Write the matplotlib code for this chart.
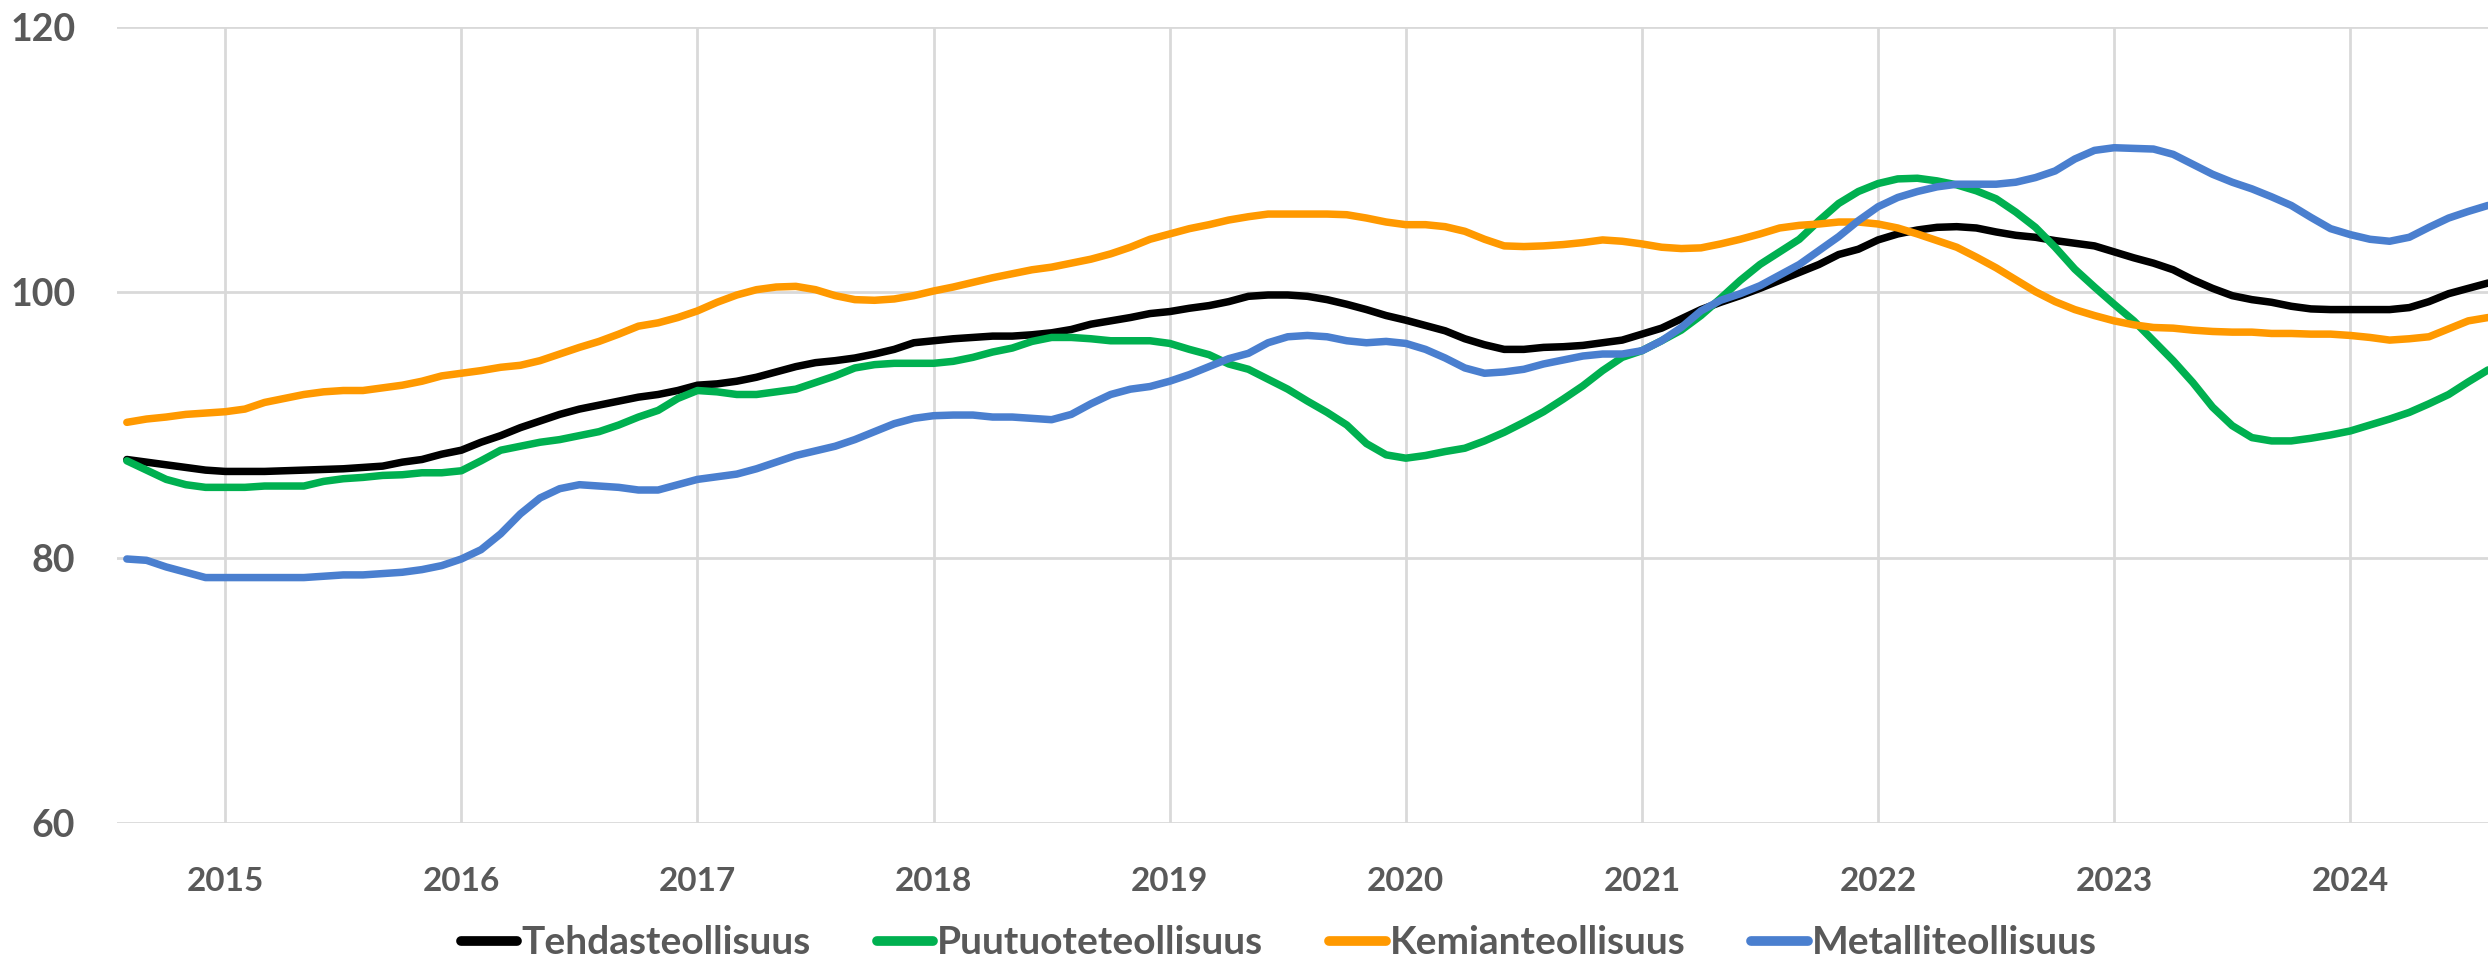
import numpy as np
import pandas as pd
import matplotlib
matplotlib.use("Agg")
import matplotlib.pyplot as plt

# Monthly index values, Aug 2014 - Aug 2024
months = pd.date_range("2014-08-01", "2024-08-01", freq="MS")

tehdas = [
    87.4, 87.2, 87.0, 86.8, 86.6,
    86.5, 86.5, 86.5, 86.55, 86.6, 86.65, 86.7, 86.8, 86.9, 87.2, 87.4, 87.8,
    88.1, 88.7, 89.2, 89.8, 90.3, 90.8, 91.2, 91.5, 91.8, 92.1, 92.3, 92.6,
    93.0, 93.1, 93.3, 93.6, 94.0, 94.4, 94.7, 94.85, 95.05, 95.35, 95.7, 96.2,
    96.35, 96.5, 96.6, 96.7, 96.7, 96.8, 96.95, 97.2, 97.6, 97.85, 98.1, 98.4,
    98.55, 98.8, 99.0, 99.3, 99.7, 99.8, 99.8, 99.7, 99.45, 99.1, 98.7, 98.25,
    97.9, 97.5, 97.1, 96.5, 96.05, 95.7, 95.7, 95.85, 95.9, 96.0, 96.2, 96.4,
    96.85, 97.3, 98.0, 98.7, 99.25, 99.75, 100.3, 100.9, 101.5, 102.1, 102.85, 103.25,
    103.95, 104.4, 104.7, 104.9, 104.95, 104.85, 104.55, 104.3, 104.15, 103.9, 103.7, 103.5,
    103.05, 102.6, 102.2, 101.7, 100.95, 100.3, 99.75, 99.45, 99.25, 98.95, 98.75, 98.7,
    98.7, 98.7, 98.7, 98.85, 99.3, 99.9, 100.3, 100.7,
]
puutuote = [
    87.3, 86.6, 85.9, 85.5, 85.3,
    85.3, 85.3, 85.4, 85.4, 85.4, 85.75, 85.95, 86.05, 86.2, 86.25, 86.4, 86.4,
    86.55, 87.3, 88.1, 88.4, 88.7, 88.9, 89.2, 89.5, 90.0, 90.6, 91.1, 92.0,
    92.6, 92.5, 92.3, 92.3, 92.5, 92.7, 93.2, 93.7, 94.3, 94.55, 94.65, 94.65,
    94.65, 94.8, 95.1, 95.5, 95.8, 96.3, 96.6, 96.6, 96.5, 96.35, 96.35, 96.35,
    96.15, 95.7, 95.3, 94.6, 94.2, 93.45, 92.7, 91.8, 90.95, 90.0, 88.6, 87.75,
    87.5, 87.7, 88.0, 88.25, 88.8, 89.45, 90.2, 91.0, 91.95, 92.95, 94.1, 95.1,
    95.6, 96.35, 97.15, 98.25, 99.55, 100.9, 102.1, 103.05, 104.0, 105.4, 106.7, 107.6,
    108.2, 108.55, 108.6, 108.4, 108.1, 107.65, 107.05, 106.05, 104.9, 103.4, 101.75, 100.4,
    99.1, 97.85, 96.35, 94.85, 93.2, 91.35, 89.95, 89.05, 88.8, 88.8, 89.0, 89.25,
    89.55, 90.0, 90.45, 90.95, 91.6, 92.3, 93.25, 94.15,
]
kemian = [
    90.2, 90.45, 90.6, 90.8, 90.9,
    91.0, 91.2, 91.7, 92.0, 92.3, 92.5, 92.6, 92.6, 92.8, 93.0, 93.3, 93.7,
    93.9, 94.1, 94.35, 94.5, 94.85, 95.35, 95.85, 96.3, 96.85, 97.45, 97.7, 98.1,
    98.6, 99.25, 99.8, 100.2, 100.4, 100.45, 100.2, 99.75, 99.45, 99.4, 99.5, 99.75,
    100.1, 100.4, 100.75, 101.1, 101.4, 101.7, 101.9, 102.2, 102.5, 102.9, 103.4, 104.0,
    104.4, 104.8, 105.1, 105.45, 105.7, 105.9, 105.9, 105.9, 105.9, 105.85, 105.6, 105.3,
    105.1, 105.1, 104.95, 104.6, 104.0, 103.5, 103.45, 103.5, 103.6, 103.75, 103.95, 103.85,
    103.65, 103.4, 103.3, 103.35, 103.65, 104.0, 104.4, 104.85, 105.05, 105.15, 105.3, 105.3,
    105.15, 104.85, 104.4, 103.9, 103.4, 102.65, 101.85, 100.95, 100.05, 99.3, 98.7, 98.25,
    97.85, 97.55, 97.35, 97.3, 97.15, 97.05, 97.0, 97.0, 96.9, 96.9, 96.85, 96.85,
    96.75, 96.6, 96.4, 96.5, 96.65, 97.25, 97.85, 98.1,
]
metalli = [
    79.9, 79.8, 79.3, 78.9, 78.5,
    78.5, 78.5, 78.5, 78.5, 78.5, 78.6, 78.7, 78.7, 78.8, 78.9, 79.1, 79.4,
    79.9, 80.6, 81.8, 83.3, 84.5, 85.2, 85.5, 85.4, 85.3, 85.1, 85.1, 85.5,
    85.9, 86.1, 86.3, 86.7, 87.2, 87.7, 88.05, 88.4, 88.9, 89.5, 90.1, 90.5,
    90.7, 90.75, 90.75, 90.6, 90.6, 90.5, 90.4, 90.8, 91.6, 92.3, 92.7, 92.9,
    93.3, 93.8, 94.4, 95.0, 95.4, 96.2, 96.65, 96.75, 96.65, 96.35, 96.2, 96.3,
    96.15, 95.7, 95.05, 94.3, 93.9, 94.0, 94.2, 94.6, 94.9, 95.2, 95.35, 95.35,
    95.6, 96.35, 97.35, 98.6, 99.4, 99.9, 100.5, 101.3, 102.1, 103.15, 104.2, 105.4,
    106.45, 107.15, 107.6, 107.95, 108.15, 108.15, 108.15, 108.3, 108.65, 109.15, 110.05, 110.7,
    110.9, 110.85, 110.8, 110.4, 109.65, 108.9, 108.3, 107.8, 107.2, 106.55, 105.65, 104.8,
    104.35, 104.0, 103.85, 104.15, 104.9, 105.6, 106.1, 106.55,
]

series = [
    ("Tehdasteollisuus", tehdas, "#000000"),
    ("Puutuoteteollisuus", puutuote, "#00B050"),
    ("Kemianteollisuus", kemian, "#FF9900"),
    ("Metalliteollisuus", metalli, "#4A7FCF"),
]

years = list(range(2015, 2025))
y_ticks = [60, 80, 100, 120]

TEXT = "#595959"
GRID = "#D9D9D9"

plt.rcParams["font.family"] = ["Lato", "Liberation Sans", "DejaVu Sans"]
plt.rcParams["font.weight"] = "bold"

fig = plt.figure(figsize=(24.88, 9.58), dpi=100)
ax = fig.add_axes([117 / 2488, 1 - 823 / 958, 1 - 117 / 2488, (823 - 27) / 958])

x = np.arange(len(months))
for name, vals, col in series:
    ax.plot(x, vals, color=col, linewidth=5.4, label=name,
            solid_capstyle="round", zorder=3)

# year ticks sit on January of each year
year_pos = [list(months).index(pd.Timestamp(f"{y}-01-01")) for y in years]
ax.set_xticks(year_pos)
ax.set_xticklabels([str(y) for y in years], fontsize=24, color=TEXT,
                   fontweight="bold")
ax.set_yticks(y_ticks)
ax.set_yticklabels([str(v) for v in y_ticks], fontsize=27, color=TEXT,
                   fontweight="bold")
ax.set_xlim(-0.5, len(months) - 1)
ax.set_ylim(60, 120)

ax.grid(True, color=GRID, linewidth=2, zorder=0)
ax.tick_params(axis="both", length=0)
ax.tick_params(axis="x", pad=32)
ax.tick_params(axis="y", pad=30)
for s in ax.spines.values():
    s.set_visible(False)

leg = fig.legend(loc="center", bbox_to_anchor=(0.514, 0.016), ncol=4,
                 frameon=False, fontsize=28, handlelength=1.45,
                 handletextpad=0.1, columnspacing=1.7)
for t in leg.get_texts():
    t.set_color(TEXT)
    t.set_fontweight("bold")
for h in leg.get_lines():
    h.set_linewidth(7)

fig.savefig("out.png", dpi=100)
